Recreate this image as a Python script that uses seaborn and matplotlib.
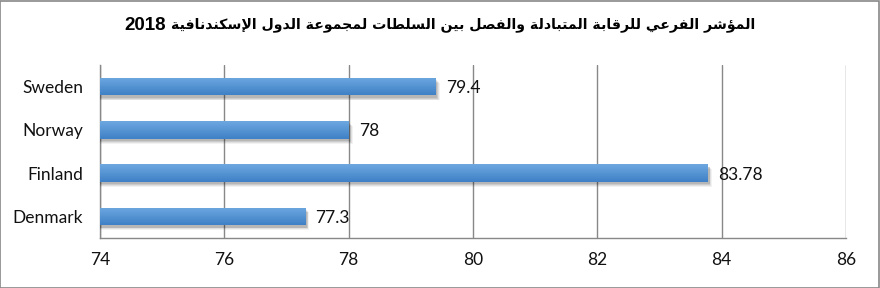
import re
import numpy as np
import pandas as pd
import matplotlib
matplotlib.use("Agg")
import matplotlib.pyplot as plt
import matplotlib.patheffects as pe
import seaborn as sns

# ---- data ----
countries = ["Sweden", "Norway", "Finland", "Denmark"]
values = [79.4, 78, 83.78, 77.3]
value_labels = ["79.4", "78", "83.78", "77.3"]
x_ticks = [74, 76, 78, 80, 82, 84, 86]
title_text = "المؤشر الفرعي للرقابة المتبادلة والفصل بين السلطات لمجموعة الدول الإسكندنافية"
title_year = "2018"

# ---- minimal Arabic shaping (presentation forms) ----
FORMS = {
    '\u0627': (0xFE8D, 0xFE8E, None, None),
    '\u0625': (0xFE87, 0xFE88, None, None),
    '\u0623': (0xFE83, 0xFE84, None, None),
    '\u0624': (0xFE85, 0xFE86, None, None),
    '\u0631': (0xFEAD, 0xFEAE, None, None),
    '\u062F': (0xFEA9, 0xFEAA, None, None),
    '\u0648': (0xFEED, 0xFEEE, None, None),
    '\u0629': (0xFE93, 0xFE94, None, None),
    '\u0644': (0xFEDD, 0xFEDE, 0xFEDF, 0xFEE0),
    '\u0645': (0xFEE1, 0xFEE2, 0xFEE3, 0xFEE4),
    '\u0634': (0xFEB5, 0xFEB6, 0xFEB7, 0xFEB8),
    '\u0641': (0xFED1, 0xFED2, 0xFED3, 0xFED4),
    '\u0639': (0xFEC9, 0xFECA, 0xFECB, 0xFECC),
    '\u064A': (0xFEF1, 0xFEF2, 0xFEF3, 0xFEF4),
    '\u0642': (0xFED5, 0xFED6, 0xFED7, 0xFED8),
    '\u0628': (0xFE8F, 0xFE90, 0xFE91, 0xFE92),
    '\u062A': (0xFE95, 0xFE96, 0xFE97, 0xFE98),
    '\u0635': (0xFEB9, 0xFEBA, 0xFEBB, 0xFEBC),
    '\u0646': (0xFEE5, 0xFEE6, 0xFEE7, 0xFEE8),
    '\u0633': (0xFEB1, 0xFEB2, 0xFEB3, 0xFEB4),
    '\u0637': (0xFEC1, 0xFEC2, 0xFEC3, 0xFEC4),
    '\u062C': (0xFE9D, 0xFE9E, 0xFE9F, 0xFEA0),
    '\u0643': (0xFED9, 0xFEDA, 0xFEDB, 0xFEDC),
}
LAMALEF = {'\u0627': (0xFEFB, 0xFEFC), '\u0625': (0xFEF9, 0xFEFA), '\u0623': (0xFEF7, 0xFEF8)}


def shape_arabic(text):
    tokens = []
    i = 0
    while i < len(text):
        c = text[i]
        if c == '\u0644' and i + 1 < len(text) and text[i + 1] in LAMALEF:
            tokens.append(('LA', text[i + 1]))
            i += 2
        else:
            tokens.append(c)
            i += 1

    def joining(t):
        return isinstance(t, tuple) or t in FORMS

    def dual(t):
        return (not isinstance(t, tuple)) and t in FORMS and FORMS[t][2] is not None

    out = []
    for k, t in enumerate(tokens):
        prev = tokens[k - 1] if k > 0 else None
        nxt = tokens[k + 1] if k + 1 < len(tokens) else None
        jp = prev is not None and dual(prev)
        if isinstance(t, tuple):
            iso, fin = LAMALEF[t[1]]
            out.append(chr(fin if jp else iso))
            continue
        if t not in FORMS:
            out.append(t)
            continue
        f = FORMS[t]
        jn = dual(t) and nxt is not None and joining(nxt)
        if jp and jn:
            out.append(chr(f[3]))
        elif jp:
            out.append(chr(f[1]))
        elif jn:
            out.append(chr(f[2]))
        else:
            out.append(chr(f[0]))
    vis = ''.join(out)[::-1]
    vis = re.sub(r'[0-9]+', lambda m: m.group(0)[::-1], vis)
    return vis


# ---- plot ----
sns.set_theme(style="white")
plt.rcParams['font.family'] = ['Lato', 'DejaVu Sans']

df = pd.DataFrame({"country": countries, "value": values})

fig = plt.figure(figsize=(8.8, 2.88), dpi=100)
ax = fig.add_axes([100 / 880, 1 - 238 / 288, 746 / 880, 173 / 288])

sns.barplot(data=df, x="value", y="country", order=countries, orient="h",
            color="#4a8bd0", width=0.41, ax=ax, zorder=3, linewidth=0, edgecolor="none")

ax.set_xlim(x_ticks[0], x_ticks[-1])
ylim = ax.get_ylim()

top_c = np.array([0x6E, 0xA8, 0xE0]) / 255
bot_c = np.array([0x3E, 0x80, 0xC6]) / 255
tt = np.linspace(0, 1, 64)[:, None]
grad = (top_c[None, :] * (1 - tt) + bot_c[None, :] * tt)[:, None, :]

shadow = [pe.SimplePatchShadow(offset=(o, -o - 0.5), shadow_rgbFace="#000000", alpha=a)
          for o, a in [(3.0, 0.05), (2.4, 0.07), (1.8, 0.09), (1.2, 0.10)]]

for patch, lab in zip(ax.patches, value_labels):
    patch.set_path_effects(shadow + [pe.Normal()])
    x0 = max(patch.get_x(), x_ticks[0])
    x1 = patch.get_x() + patch.get_width()
    y0 = patch.get_y()
    h = patch.get_height()
    im = ax.imshow(grad, extent=(x0, x1, y0 + h, y0), origin="upper", aspect="auto",
                   interpolation="bilinear", zorder=4)
    im.set_clip_path(patch)
    ax.annotate(lab, xy=(x1, y0 + h / 2), xytext=(7.5, -1), textcoords="offset points",
                ha="left", va="center", fontsize=12.5, color="#111111", zorder=5)

ax.set_xlim(x_ticks[0], x_ticks[-1])
ax.set_ylim(ylim)

ax.set_xticks(x_ticks)
ax.set_xticklabels([str(v) for v in x_ticks], fontsize=12.5, color="#111111")
ax.set_yticks(range(len(countries)))
ax.set_yticklabels(countries, fontsize=12.5, color="#111111")
ax.set_yticks([i - 0.5 for i in range(len(countries) + 1)], minor=True)
ax.tick_params(axis="y", which="major", length=0, pad=12)
ax.tick_params(axis="y", which="minor", length=5, width=1, color="#888888", direction="out")
ax.tick_params(axis="x", which="major", length=5, width=1, color="#888888", direction="out", pad=5)
ax.set_xlabel("")
ax.set_ylabel("")

ax.grid(axis="x", color="#888888", linewidth=1, zorder=0)
ax.set_axisbelow(True)
for s in ["top", "right"]:
    ax.spines[s].set_visible(False)
for s in ["left", "bottom"]:
    ax.spines[s].set_color("#888888")
    ax.spines[s].set_linewidth(1)

ar_txt = fig.text(755 / 880, 1 - 25 / 288, shape_arabic(title_text), ha="right", va="center",
                  fontsize=10.2, fontweight="bold", family=["DejaVu Sans"], color="#000000")
fig.canvas.draw()
bb = ar_txt.get_window_extent(renderer=fig.canvas.get_renderer())
fig.text((bb.x0 - 5) / fig.bbox.width, 1 - 25 / 288, title_year, ha="right", va="center",
         fontsize=13.5, fontweight="bold", family=["Liberation Sans", "DejaVu Sans"], color="#000000")

fig.patches.append(plt.Rectangle((0.0005, 0.001), 0.998, 0.997, transform=fig.transFigure,
                                 fill=False, edgecolor="#888888", linewidth=1.2))

fig.savefig("out.png", dpi=100)
